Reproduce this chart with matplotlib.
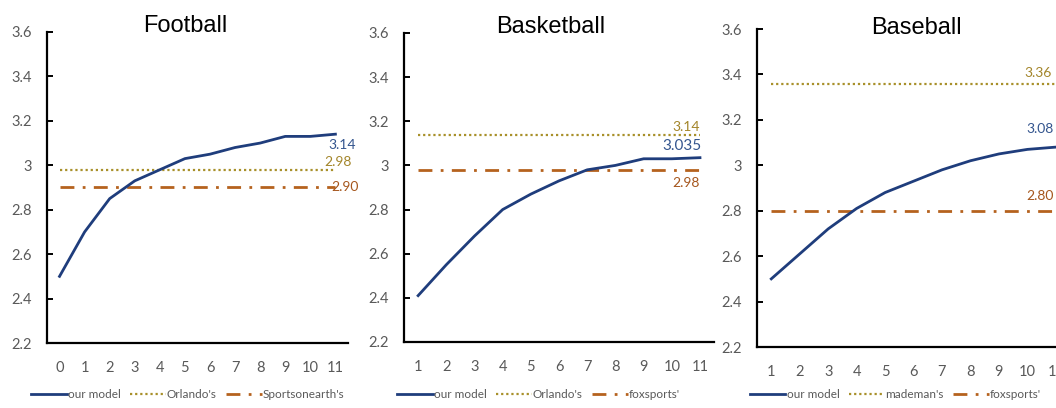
import matplotlib
matplotlib.use("Agg")
import matplotlib.pyplot as plt

# Football
football_x = list(range(0, 12))
football_model = [2.50, 2.70, 2.85, 2.93, 2.98, 3.03, 3.05, 3.08, 3.10, 3.13, 3.13, 3.14]
football_ref1 = 2.98
football_ref2 = 2.90

# Basketball
basketball_x = list(range(1, 12))
basketball_model = [2.41, 2.55, 2.68, 2.80, 2.87, 2.93, 2.98, 3.00, 3.03, 3.03, 3.035]
basketball_ref1 = 3.14
basketball_ref2 = 2.98

# Baseball
baseball_x = list(range(1, 12))
baseball_model = [2.50, 2.61, 2.72, 2.81, 2.88, 2.93, 2.98, 3.02, 3.05, 3.07, 3.08]
baseball_ref1 = 3.36
baseball_ref2 = 2.80

titles = ["Football", "Basketball", "Baseball"]
ref1_names = ["Orlando's", "Orlando's", "mademan's"]
ref2_names = ["Sportsonearth's", "foxsports'", "foxsports'"]
end_labels = [
    ["3.14", "2.98", "2.90"],
    ["3.035", "3.14", "2.98"],
    ["3.08", "3.36", "2.80"],
]

BLUE = "#1f3d7c"
GOLD = "#a8902a"
BROWN = "#b5621e"
BLUE_TXT = "#34558e"
GOLD_TXT = "#a3852a"
BROWN_TXT = "#a5561d"
GREY = "#595959"
BODY_FONT = ["Lato", "DejaVu Sans"]

fig = plt.figure(figsize=(10.56, 4.08), dpi=100)

rects = [
    [0.0445, 0.1593, 0.2850, 0.7623],
    [0.3826, 0.1618, 0.2936, 0.7574],
    [0.7169, 0.1495, 0.2964, 0.7794],
]
xlims = [(-0.5, 11.5), (0.5, 11.5), (0.5, 11.5)]
title_pos = [0.458, 0.474, 0.508]
title_y = [1.0, 1.0, 0.985]
legend_cx = [0.178, 0.510, 0.848]
# centre positions (data coords) of the end-of-line value labels: model, ref1, ref2
label_pos = [
    [(11.27, 3.09), (11.1, 3.015), (11.4, 2.902)],
    [(10.36, 3.09), (10.5, 3.174), (10.5, 2.92)],
    [(10.44, 3.16), (10.37, 3.406), (10.44, 2.865)],
]

data = [
    (football_x, football_model, football_ref1, football_ref2),
    (basketball_x, basketball_model, basketball_ref1, basketball_ref2),
    (baseball_x, baseball_model, baseball_ref1, baseball_ref2),
]

for i, (xs, model, r1, r2) in enumerate(data):
    ax = fig.add_axes(rects[i])
    ax.set_facecolor("none")

    ax.plot(xs, [r1] * len(xs), color=GOLD, lw=1.6, linestyle=(0, (1, 1.3)),
            label=ref1_names[i], zorder=2)
    ax.plot(xs, [r2] * len(xs), color=BROWN, lw=2.0, linestyle=(0, (5, 3, 1, 3)),
            label=ref2_names[i], zorder=2)
    ax.plot(xs, model, color=BLUE, lw=2.0, label="our model", zorder=3)

    ax.set_xlim(*xlims[i])
    ax.set_ylim(2.2, 3.6)
    ax.set_xticks(xs)
    ax.set_yticks([2.2, 2.4, 2.6, 2.8, 3.0, 3.2, 3.4, 3.6])
    ax.set_yticklabels(["2.2", "2.4", "2.6", "2.8", "3", "3.2", "3.4", "3.6"])

    for side in ["top", "right"]:
        ax.spines[side].set_visible(False)
    for side in ["left", "bottom"]:
        ax.spines[side].set_linewidth(1.6)
        ax.spines[side].set_color("black")

    ax.tick_params(axis="y", direction="in", length=4, width=1.4, pad=11,
                   labelsize=10.5, labelcolor=GREY)
    ax.tick_params(axis="x", length=0, pad=13, labelsize=10.5, labelcolor=GREY)
    for lab in ax.get_xticklabels() + ax.get_yticklabels():
        lab.set_family(BODY_FONT)

    ax.text(title_pos[i], title_y[i], titles[i], transform=ax.transAxes,
            ha="center", va="baseline", fontsize=17, family="Liberation Sans")

    colors = [BLUE_TXT, GOLD_TXT, BROWN_TXT]
    for j, txt in enumerate(end_labels[i]):
        size = 11 if txt == "3.035" else 10
        ax.text(label_pos[i][j][0], label_pos[i][j][1], txt, color=colors[j],
                ha="center", va="center", fontsize=size, family=BODY_FONT,
                clip_on=False)

    handles, labels = ax.get_legend_handles_labels()
    order = [2, 0, 1]
    leg = ax.legend([handles[k] for k in order], [labels[k] for k in order],
                    loc="center", bbox_to_anchor=(legend_cx[i], 0.032),
                    bbox_transform=fig.transFigure, ncol=3, frameon=False,
                    handlelength=3.0, handletextpad=0.1, columnspacing=0.8,
                    prop={"family": BODY_FONT, "size": 8.5})
    for t in leg.get_texts():
        t.set_color(GREY)

fig.savefig("out.png", dpi=100)
